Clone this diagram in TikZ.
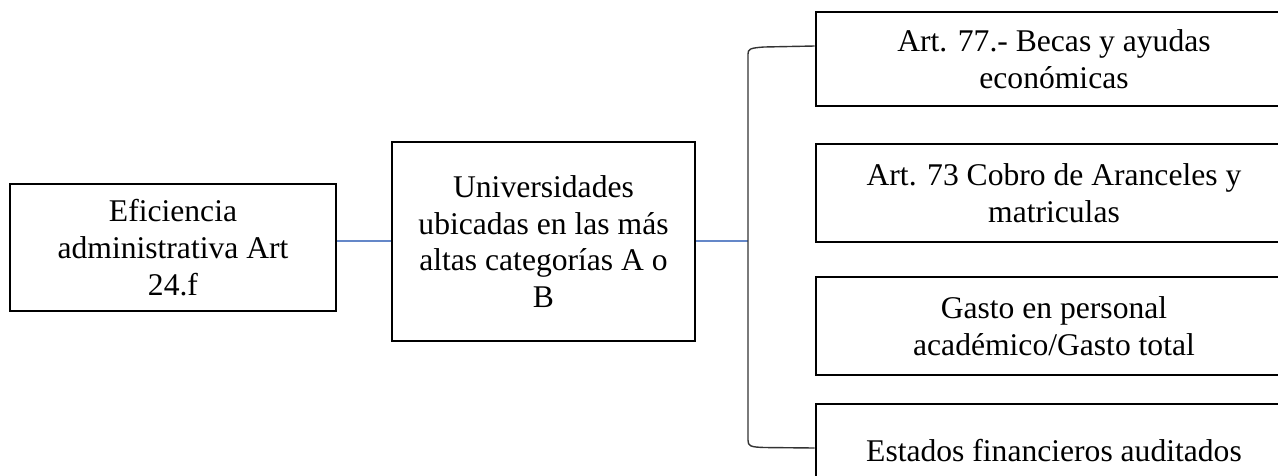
\documentclass[tikz,border=0pt]{standalone}
\usepackage{fontspec}
\setmainfont{Liberation Serif}
\begin{document}
\begin{tikzpicture}[x=1pt,y=-1pt,
  box/.style={draw=black, line width=2.6pt, align=center, inner sep=0pt,
    font=\fontsize{31.6}{36.7}\selectfont},
  rbox/.style={box, minimum width=476pt},
  link/.style={draw={rgb,255:red,100;green,135;blue,200}, line width=1.3pt},
  bracket/.style={draw=black!80, line width=1.4pt}]
\useasboundingbox (0,0) rectangle (1278,475);
\clip (0,0) rectangle (1278,475);
\node[box, minimum width=326pt, minimum height=127pt] (a) at (173,247.5)
  {Eficiencia\\administrativa Art\\24.f};
\node[box, minimum width=303pt, minimum height=199pt] (b) at (543.5,241.5)
  {Universidades\\ubicadas en las más\\altas categorías A o\\B};
\node[rbox, minimum height=94pt] (c1) at (1054,59)
  {Art. 77.- Becas y ayudas\\económicas};
\node[rbox, minimum height=98pt] (c2) at (1054,193)
  {Art. 73 Cobro de Aranceles y\\matriculas};
\node[rbox, minimum height=98pt] (c3) at (1054,326)
  {Gasto en personal\\académico/Gasto total};
\node[rbox, minimum height=94pt] (c4) at (1054,451)
  {Estados financieros auditados};
\coordinate (j) at (748,241);
\coordinate (t) at (c1.west |- 0,46);
\coordinate (u) at (c4.west |- 0,448);
\draw[link] (a.east |- 0,241) -- (b.west |- 0,241);
\draw[link] (b.east |- 0,241) -- (j);
\draw[bracket] (t) -- (764,47) .. controls (750,48) and (748,49) .. (748,54)
  -- (748,440) .. controls (748,446) and (750,447) .. (764,447.5) -- (u);
\end{tikzpicture}
\end{document}
